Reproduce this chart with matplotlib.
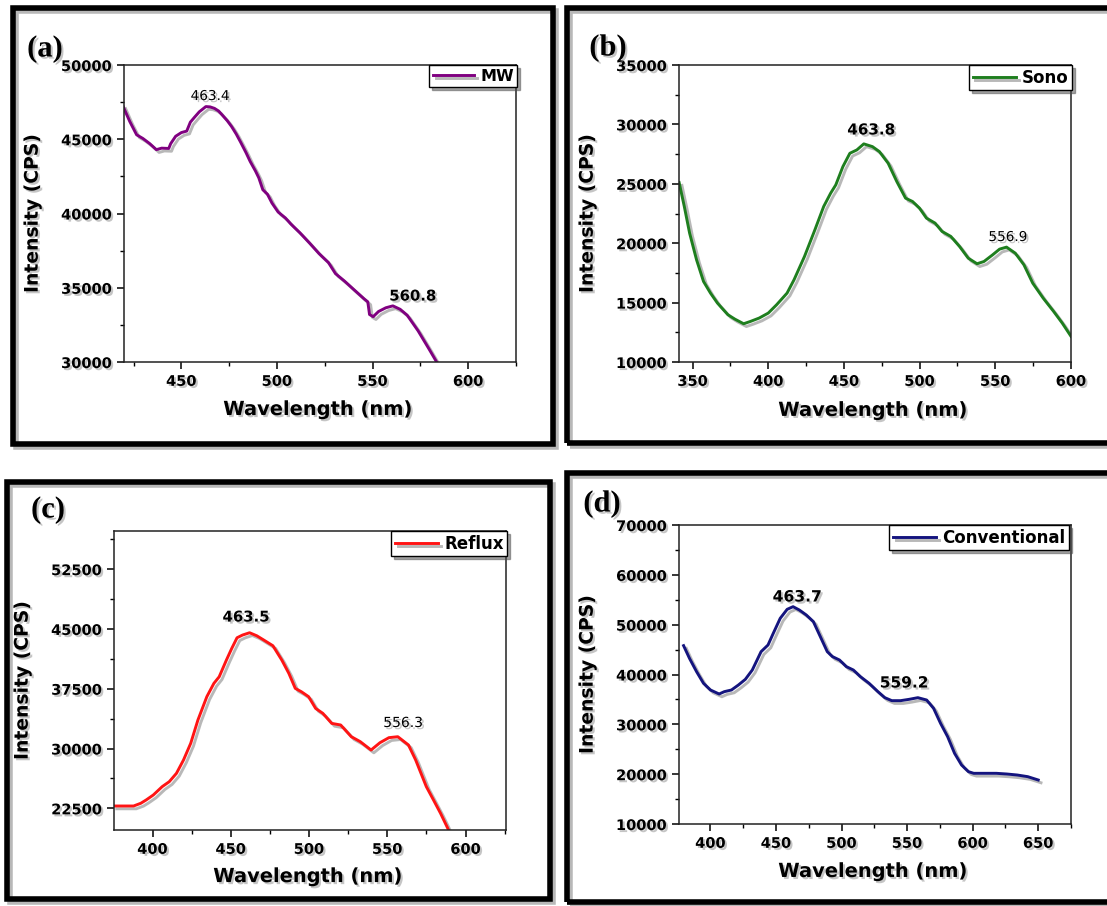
import matplotlib
matplotlib.use("Agg")
import matplotlib.pyplot as plt
import matplotlib.patheffects as pe
from matplotlib.ticker import MultipleLocator
from matplotlib.patches import Rectangle

# ---- data ----
wl_mw = [419.4, 423, 426.6, 429.9, 433.5, 436.9, 439.7, 443.4, 444.4, 447, 450, 452.8,
         454.7, 457, 459.4, 462.8, 465, 467.3, 469.5, 471.6, 474, 476.3, 478.7, 481,
         483.8, 486, 488.8, 490.5, 492.6, 495, 497.4, 500.6, 504.4, 507.2, 512, 517.1,
         522, 526.9, 530.6, 535.3, 540, 545.6, 547.5, 548.4, 550.3, 553.1, 556.9, 560.6,
         564.4, 568.1, 573.8, 579.4, 583.5, 586]
int_mw = [47250, 46200, 45300, 45050, 44700, 44300, 44400, 44380, 44700, 45200, 45450, 45550,
          46150, 46500, 46850, 47200, 47180, 47080, 46900, 46600, 46250, 45850, 45350, 44800,
          44100, 43500, 42850, 42400, 41600, 41300, 40700, 40100, 39700, 39300, 38700, 38000,
          37300, 36700, 35950, 35450, 34900, 34250, 34050, 33200, 33050, 33400, 33650, 33780,
          33550, 33150, 32100, 30900, 30000, 29400]

wl_sono = [341.1, 344.5, 348, 352.6, 357.2, 361.8, 366.4, 373.3, 377.9, 383.7, 388.3, 394,
           400, 405.5, 412.4, 417, 423.9, 430.8, 436.6, 441.2, 444.6, 449.3, 453.9, 458.5,
           463.1, 468.8, 473.4, 479.2, 484.9, 490.7, 495.3, 499.9, 504.5, 510.2, 514.8,
           520.6, 526.4, 532.1, 537.9, 542.5, 548.2, 552.8, 557.4, 563.2, 568.9, 574.7,
           581.6, 588.5, 594.2, 600]
int_sono = [25100, 23090, 20850, 18600, 16780, 15800, 14960, 13980, 13610, 13220, 13420, 13700,
            14120, 14820, 15800, 16920, 18880, 21130, 23090, 24210, 24910, 26450, 27570, 27850,
            28360, 28130, 27710, 26730, 25190, 23790, 23510, 22950, 22110, 21690, 20990,
            20570, 19720, 18740, 18270, 18460, 19020, 19500, 19670, 19160, 18180, 16640,
            15380, 14260, 13280, 12160]

wl_reflux = [375.4, 387.9, 392.5, 395.9, 400.5, 406.2, 410.7, 415.3, 419.8, 424.4, 429, 434.7,
             439.2, 442.6, 447.2, 450.6, 454, 457.5, 462, 466.6, 471.1, 476.9, 482.6, 487.1,
             491.2, 495.1, 499.7, 504.2, 508.8, 514.5, 520.2, 527, 532.7, 539.6, 545.3, 551,
             556.7, 563.5, 568.1, 574.9, 579.5, 584, 588.6, 591]
int_reflux = [22790, 22790, 23130, 23540, 24170, 25220, 25840, 26890, 28560, 30650, 33570, 36500,
              38170, 39000, 41090, 42550, 43890, 44230, 44520, 44140, 43600, 42890, 41090, 39420,
              37540, 37120, 36500, 35030, 34410, 33150, 32950, 31480, 30860, 29810, 30730, 31360,
              31480, 30440, 28560, 25220, 23540, 21870, 19990, 19000]

wl_conv = [379.5, 384, 389.4, 394.7, 400, 406.6, 410.6, 416, 421.3, 426.6, 431.9, 438.6, 443.9,
           447.9, 453.2, 458.5, 463, 467.8, 473.1, 478.5, 483.8, 489.1, 493.1, 498.4, 503.7,
           509, 514.4, 521, 527.7, 533, 538.3, 545, 551.6, 558.2, 564.9, 570.2, 575.5, 580.9,
           586.2, 591.5, 596.8, 600.8, 610.1, 618.1, 626.1, 634, 642, 650]
int_conv = [45790, 43240, 40570, 38230, 36890, 36090, 36560, 36890, 37890, 39030, 40900, 44580,
            45920, 48260, 51270, 53080, 53610, 52940, 51940, 50600, 47590, 44580, 43580, 42910,
            41570, 40900, 39560, 38230, 36560, 35350, 34750, 34750, 35020, 35350, 34880, 33210,
            30200, 27520, 24180, 21840, 20500, 20170, 20170, 20170, 20030, 19830, 19500, 18830]

names = ["MW", "Sono", "Reflux", "Conventional"]
tags = ["(a)", "(b)", "(c)", "(d)"]
peak_text = [["463.4", "560.8"], ["463.8", "556.9"], ["463.5", "556.3"], ["463.7", "559.2"]]
peak_pos = [[(465, 47910), (571, 34440)], [(468, 29530), (558.4, 20520)],
            [(459.7, 46490), (560, 33200)], [(466.2, 55550), (547.8, 38290)]]
peak_size = [[9.8, 10.7], [10.9, 9.8], [10.7, 10], [11.2, 11.1]]
peak_bold = [[False, True], [True, False], [True, False], [True, True]]

plt.rcParams['font.family'] = 'DejaVu Sans'
plt.rcParams['font.weight'] = 'bold'

txt_fx = [pe.withSimplePatchShadow(offset=(1.5, -1.5), shadow_rgbFace='0.5', alpha=0.45)]
line_fx = [pe.SimpleLineShadow(offset=(2, -2), shadow_color='0.45', alpha=0.5), pe.Normal()]

fig = plt.figure(figsize=(11.07, 9.06), dpi=100)
W, H = 1107.0, 906.0

# outer frames (pixels: x0, y0 top, x1, y1 bottom)
frames = [(13, 8, 553, 444), (567, 8, 1112, 443), (7, 482, 550, 899), (567, 473, 1112, 902)]
for x0, y0, x1, y1 in frames:
    r = Rectangle((x0 / W, 1 - y1 / H), (x1 - x0) / W, (y1 - y0) / H, transform=fig.transFigure,
                  fill=False, lw=4, ec='black', path_effects=line_fx)
    fig.add_artist(r)

# axes boxes (pixels: left, top, right, bottom)
boxes = [(124, 65, 516, 362), (679, 65, 1071, 362), (114, 531, 506, 830), (679, 525, 1071, 824)]
xlims = [(420, 625), (341, 600), (375.4, 625.8), (376, 675)]
ylims = [(30000, 50000), (10000, 35000), (19780, 57280), (10000, 70000)]
ymaj = [5000, 5000, 7500, 10000]
colors = ['#800080', '#1e7e1e', '#ff1414', '#14147e']
xs = [wl_mw, wl_sono, wl_reflux, wl_conv]
ys = [int_mw, int_sono, int_reflux, int_conv]
leg_anchor = [(1.003, 1.0), (1.003, 1.0), (1.003, 1.0), (0.995, 1.0)]
leg_size = [11.5, 12, 12, 12]
xlab_y = [-0.128, -0.131, -0.124, -0.127]
tag_pos = [(45, 49), (608, 48), (48, 510), (602, 504)]

for i in range(4):
    l, t, r, b = boxes[i]
    ax = fig.add_axes([l / W, 1 - b / H, (r - l) / W, (b - t) / H])
    ax.plot(xs[i], ys[i], color=colors[i], lw=2.1, label=names[i], path_effects=line_fx)
    ax.set_xlim(*xlims[i])
    ax.set_ylim(*ylims[i])
    ax.xaxis.set_major_locator(MultipleLocator(50))
    ax.xaxis.set_minor_locator(MultipleLocator(25))
    ax.yaxis.set_major_locator(MultipleLocator(ymaj[i]))
    ax.yaxis.set_minor_locator(MultipleLocator(ymaj[i] / 2))
    ax.ticklabel_format(useOffset=False, style='plain')
    ax.tick_params(which='major', direction='out', length=5, width=1.1, labelsize=10.5)
    ax.tick_params(which='minor', direction='out', length=3, width=1.0)
    for s in ax.spines.values():
        s.set_linewidth(1.1)
        s.set_color('#222222')
    ax.set_xlabel("Wavelength (nm)", fontsize=14, fontweight='bold', path_effects=txt_fx)
    ax.set_ylabel("Intensity (CPS)", fontsize=13.5, fontweight='bold', path_effects=txt_fx)
    ax.xaxis.set_label_coords(0.495, xlab_y[i])
    ax.yaxis.set_label_coords(-0.21, 0.5)
    for lbl in ax.get_xticklabels() + ax.get_yticklabels():
        lbl.set_path_effects(txt_fx)
        lbl.set_fontweight('bold')
    for j in range(2):
        ax.text(peak_pos[i][j][0], peak_pos[i][j][1], peak_text[i][j], ha='center', va='center',
                fontsize=peak_size[i][j], fontweight='bold' if peak_bold[i][j] else 'normal',
                path_effects=txt_fx)
    ax.legend(loc='upper right', bbox_to_anchor=leg_anchor[i], borderaxespad=0,
              fancybox=False, edgecolor='black', framealpha=1, shadow=True,
              prop={'weight': 'bold', 'size': leg_size[i]}, handlelength=2.6,
              handletextpad=0.35, borderpad=0.22)
    tx, ty = tag_pos[i]
    fig.text(tx / W, 1 - ty / H, tags[i], ha='center', va='center', fontsize=22,
             fontweight='bold', family='Liberation Serif', path_effects=txt_fx)

fig.savefig("out.png", dpi=100)
